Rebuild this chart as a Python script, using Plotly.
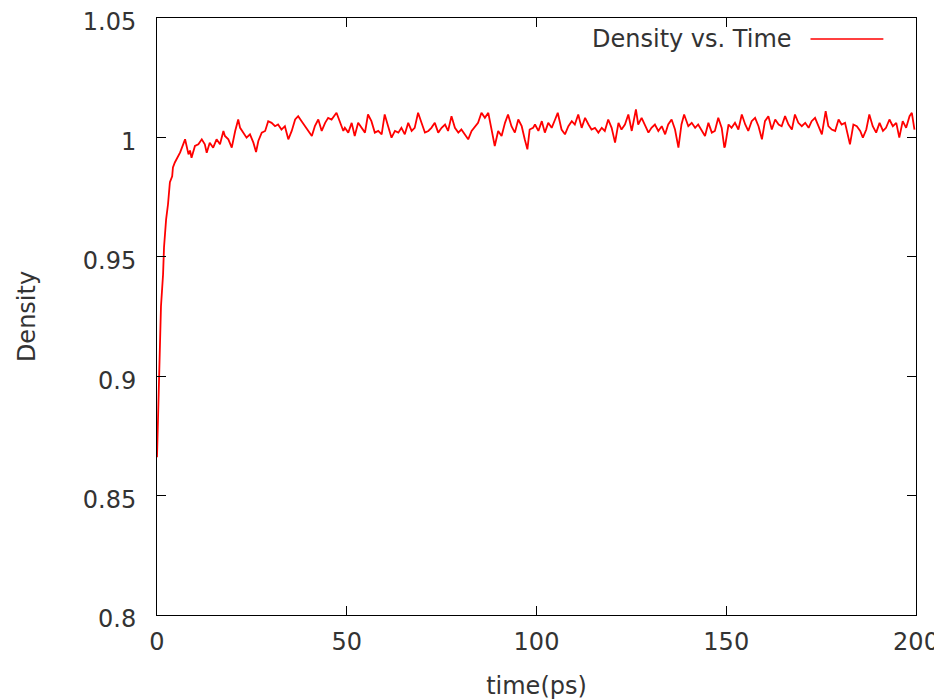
import plotly.graph_objects as go

rise_time = [0.0, 0.3, 0.8, 1.05, 1.6, 1.85, 2.4, 2.9, 3.4, 4.0, 4.2, 4.7]
rise_density = [0.8661, 0.8862, 0.9100, 0.9293, 0.9427, 0.9540, 0.9657, 0.9720, 0.9812, 0.9837,
                0.9874, 0.9895]

# plateau, read at fine spacing
plateau_time = [6.1, 7.4, 8.3, 8.7, 9.1, 10.0, 10.9, 11.8, 12.6, 13.1, 13.9, 14.8, 15.7, 16.6,
                17.5, 17.9, 18.8, 19.7, 20.6, 21.4, 21.9, 22.7, 23.6, 24.5, 25.4, 26.1, 26.7,
                27.6, 28.5, 29.3, 30.2, 31.1, 31.9, 32.8, 33.7, 34.6, 35.5, 36.4, 37.2, 38.1,
                39.0, 39.9, 40.8, 41.6, 42.5, 43.4, 44.3, 45.1, 46.0, 47.3, 48.2, 49.1,
                49.5, 50.4, 51.3, 52.1, 53.0, 53.9, 54.8, 55.6, 56.5, 57.4, 58.3, 59.2, 60.0,
                60.9, 61.8, 62.7, 63.6, 64.4, 65.3, 66.2, 67.1, 67.9, 68.8, 69.7, 70.6, 71.5,
                72.3, 73.2, 74.1, 75.0, 75.9, 76.7, 77.6, 78.5, 79.4, 80.2, 81.1, 82.0, 82.9,
                83.8, 84.6, 85.5, 86.4, 87.3, 88.1, 89.0, 89.9, 90.8, 91.7, 92.5, 93.4, 94.3,
                95.2, 96.1, 96.9, 97.6, 98.2, 99.1,
                99.6, 100.5, 101.4, 102.2, 103.1, 104.0, 104.9, 105.6, 106.6, 107.5, 108.4,
                109.3, 110.1, 111.0, 111.9, 112.8, 113.7, 114.5, 115.4, 116.3, 117.2, 118.0,
                118.9, 119.8, 120.7, 121.6, 122.4, 123.3, 124.2, 125.1, 126.2, 126.8, 127.7,
                128.6, 129.5, 130.3, 131.2, 132.1, 133.0, 133.9, 134.7, 135.6, 136.5, 137.4,
                138.2, 138.9, 140.0, 140.9, 141.8, 142.6, 143.5, 144.4, 145.3, 146.2, 147.0,
                147.9, 148.8, 149.5,
                149.7, 150.6, 151.4, 152.3, 153.2, 154.1, 155.0, 155.8, 156.7, 157.6, 158.5,
                159.4, 160.2, 161.1, 162.0, 162.9, 163.8, 164.6, 165.5, 166.4, 167.3, 168.1,
                169.0, 169.9, 170.8, 171.7, 172.5, 173.4, 174.3, 175.2, 176.2, 176.9, 177.8,
                178.7, 179.6, 180.4, 181.3, 182.6, 183.5, 184.4, 185.3, 186.0, 186.9, 187.7,
                188.6, 189.5, 190.4, 191.3, 192.1, 193.0, 193.9, 194.8, 195.6, 196.5, 197.4,
                198.3, 198.9, 199.6]
plateau_density = [0.9937, 0.9992, 0.9929, 0.9945, 0.9915, 0.9964, 0.9971, 0.9992, 0.9971, 0.9936,
                   0.9978, 0.9957, 0.9992, 0.9971, 1.0027, 1.0006, 0.9992, 0.9957, 1.0027, 1.0075,
                   1.0040, 1.0020, 0.9999, 1.0013, 0.9978, 0.9939, 0.9985, 1.0020, 1.0027, 1.0068,
                   1.0061, 1.0047, 1.0054, 1.0033, 1.0047, 0.9992, 1.0027, 1.0075, 1.0089, 1.0068,
                   1.0047, 1.0027, 1.0006, 1.0047, 1.0075, 1.0027, 1.0061, 1.0082, 1.0075, 1.0103,
                   1.0061, 1.0027,
                   1.0040, 1.0020, 1.0061, 1.0006, 1.0061, 1.0040, 1.0020, 1.0096, 1.0068, 1.0020,
                   1.0027, 1.0013, 1.0096, 1.0047, 0.9999, 1.0027, 1.0020, 1.0040, 1.0013, 1.0061,
                   1.0027, 1.0040, 1.0103, 1.0061, 1.0020, 1.0027, 1.0040, 1.0061, 1.0020, 1.0040,
                   1.0054, 1.0027, 1.0089, 1.0040, 1.0020, 1.0033, 1.0013, 0.9992, 1.0027, 1.0047,
                   1.0061, 1.0103, 1.0082, 1.0103, 1.0040, 0.9964, 1.0027, 1.0006, 1.0061, 1.0096,
                   1.0047, 1.0020, 1.0075, 1.0047, 0.9992, 0.9950, 1.0033, 1.0040,
                   1.0054, 1.0027, 1.0068, 1.0020, 1.0061, 1.0040, 1.0075, 1.0103, 1.0033, 1.0013,
                   1.0047, 1.0068, 1.0054, 1.0096, 1.0040, 1.0082, 1.0054, 1.0033, 1.0040, 1.0020,
                   1.0040, 1.0027, 1.0075, 1.0040, 0.9978, 1.0061, 1.0033, 1.0054, 1.0096, 1.0027,
                   1.0117, 1.0054, 1.0082, 1.0054, 1.0020, 1.0040, 1.0054, 1.0027, 1.0047, 1.0013,
                   1.0054, 1.0075, 1.0033, 0.9957, 1.0054, 1.0096, 1.0047, 1.0061, 1.0040, 1.0054,
                   1.0027, 1.0006, 1.0061, 1.0020, 1.0027, 1.0082, 1.0040, 0.9957,
                   0.9964, 1.0054, 1.0040, 1.0061, 1.0033, 1.0096, 1.0054, 1.0027, 1.0068, 1.0082,
                   1.0047, 0.9992, 1.0068, 1.0089, 1.0033, 1.0075, 1.0054, 1.0047, 1.0089, 1.0054,
                   1.0033, 1.0096, 1.0061, 1.0047, 1.0061, 1.0040, 1.0068, 1.0082, 1.0047, 1.0013,
                   1.0110, 1.0047, 1.0033, 1.0027, 1.0075, 1.0054, 1.0061, 0.9971, 1.0054, 1.0047,
                   1.0027, 0.9999, 1.0033, 1.0096, 1.0047, 1.0020, 1.0061, 1.0027, 1.0040, 1.0075,
                   1.0047, 1.0061, 0.9999, 1.0068, 1.0040, 1.0089, 1.0103, 1.0033]

x_ticks = [0, 50, 100, 150, 200]
y_ticks = [0.8, 0.85, 0.9, 0.95, 1.0, 1.05]
y_tick_labels = ["0.8", "0.85", "0.9", "0.95", "1", "1.05"]
series_name = "Density vs. Time"

time_ps = rise_time + plateau_time
density = rise_density + plateau_density

FONT = "DejaVu Sans"
FS = 24
TXT = "#333333"

fig = go.Figure()
fig.add_trace(go.Scatter(x=time_ps, y=density, mode="lines", name=series_name,
                         line=dict(color="#ff0000", width=1.8), showlegend=False))

axis_common = dict(showline=True, linecolor="black", linewidth=1, mirror="ticks",
                   ticks="inside", ticklen=9, tickcolor="black", tickwidth=1,
                   showgrid=False, zeroline=False, ticklabeloverflow="allow", automargin=False,
                   tickfont=dict(family=FONT, size=FS, color=TXT))

fig.update_xaxes(range=[0, 200], tickvals=x_ticks, ticklabelstandoff=5,
                 title=dict(text="time(ps)", font=dict(family=FONT, size=FS, color=TXT), standoff=22),
                 **axis_common)
fig.update_yaxes(range=[0.8, 1.05], tickvals=y_ticks, ticktext=y_tick_labels, ticklabelstandoff=15,
                 ticklabelshift=4,
                 title=dict(text="Density", font=dict(family=FONT, size=FS, color=TXT), standoff=40),
                 **axis_common)

# gnuplot-style key: text on the left, line sample on the right
fig.add_annotation(x=0.839, y=0.965, xref="paper", yref="paper", text=series_name,
                   showarrow=False, xanchor="right", yanchor="middle",
                   font=dict(family=FONT, size=FS, color=TXT))
fig.add_shape(type="line", xref="paper", yref="paper", x0=0.861, x1=0.957, y0=0.965, y1=0.965,
              line=dict(color="#ff0000", width=1.5))

fig.update_layout(width=942, height=700, plot_bgcolor="white", paper_bgcolor="white",
                  margin=dict(l=149, r=34, t=10, b=93), autosize=False)

fig.write_html("out.html")
